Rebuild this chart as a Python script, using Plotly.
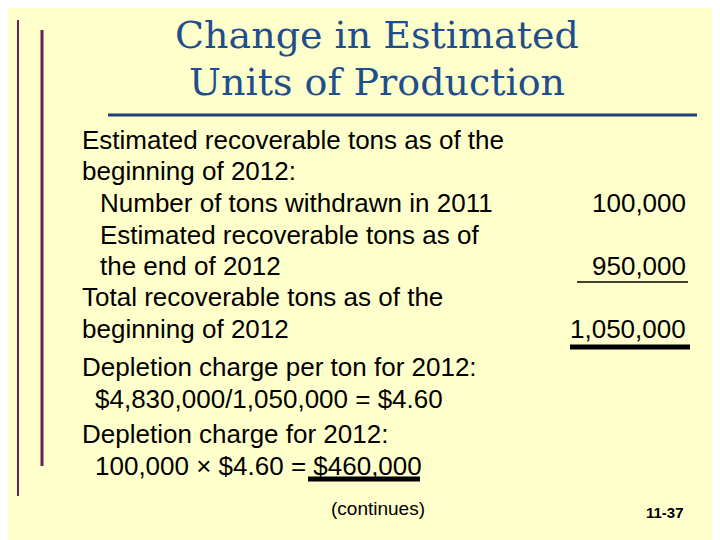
import plotly.graph_objects as go

title_lines = ["Change in Estimated", "Units of Production"]

body_text = [
    "Estimated recoverable tons as of the",
    "beginning of 2012:",
    "Number of tons withdrawn in 2011",
    "Estimated recoverable tons as of",
    "the end of 2012",
    "Total recoverable tons as of the",
    "beginning of 2012",
    "Depletion charge per ton for 2012:",
    "$4,830,000/1,050,000 = $4.60",
    "Depletion charge for 2012:",
    "100,000 \u00d7 $4.60 = $460,000",
]
body_x = [80, 80, 98, 98, 98, 80, 80, 80, 93, 80, 93]
body_y = [140, 171, 203, 235, 266, 297, 329, 367, 399, 434, 466]

amounts = ["100,000", "950,000", "1,050,000"]
amount_y = [203, 266, 329]

footer_left = "(continues)"
slide_no = "11-37"

fig = go.Figure()

for i, t in enumerate(title_lines):
    fig.add_annotation(x=377, y=35 + 47 * i, text=t, showarrow=False,
                       font=dict(family="DejaVu Serif", size=38, color="#1F4E8C"))

for t, x, y in zip(body_text, body_x, body_y):
    fig.add_annotation(x=x, y=y, text=t, showarrow=False, xanchor="left",
                       font=dict(family="Liberation Sans", size=26, color="black"))

for t, y in zip(amounts, amount_y):
    fig.add_annotation(x=688, y=y, text=t, showarrow=False, xanchor="right",
                       font=dict(family="Liberation Sans", size=26, color="black"))

fig.add_annotation(x=378, y=508, text=footer_left, showarrow=False,
                   font=dict(family="Liberation Sans", size=19, color="black"))
fig.add_annotation(x=665, y=512, text="<b>" + slide_no + "</b>", showarrow=False,
                   font=dict(family="Liberation Sans", size=15, color="black"))

# decorative lines
fig.add_shape(type="line", x0=18, x1=18, y0=20, y1=496, line=dict(color="#6B1E5A", width=2))
fig.add_shape(type="line", x0=42, x1=42, y0=30, y1=466, line=dict(color="#6B1E5A", width=3))
fig.add_shape(type="line", x0=108, x1=697, y0=115, y1=115, line=dict(color="#1F3F7A", width=3))
# underlines
fig.add_shape(type="line", x0=577, x1=688, y0=282, y1=282, line=dict(color="black", width=1.5))
fig.add_shape(type="line", x0=570, x1=690, y0=347, y1=347, line=dict(color="black", width=5))
fig.add_shape(type="line", x0=308, x1=420, y0=479, y1=479, line=dict(color="black", width=5))

# page body has an 8px margin, so shift the coordinate frame to compensate
fig.update_xaxes(range=[8, 728], visible=False)
fig.update_yaxes(range=[548, 8], visible=False)
fig.update_layout(width=720, height=540, margin=dict(l=0, r=0, t=0, b=0),
                  paper_bgcolor="#FFFFCC", plot_bgcolor="#FFFFCC", showlegend=False)

fig.write_html("out.html")
